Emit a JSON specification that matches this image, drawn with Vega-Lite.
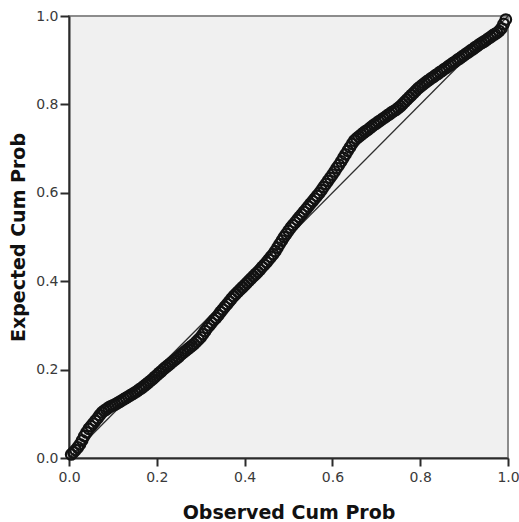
{
  "$schema": "https://vega.github.io/schema/vega-lite/v6.json",
  "width": 439,
  "height": 442,
  "autosize": "none",
  "padding": {"left": 69, "top": 16, "right": 11, "bottom": 64},
  "background": "#ffffff",
  "config": {
    "view": {"fill": "#f0f0f0", "stroke": "#8c8c8c", "strokeWidth": 2},
    "axis": {
      "grid": false,
      "domainColor": "#2b2b2b",
      "domainWidth": 2,
      "tickColor": "#2b2b2b",
      "tickWidth": 2,
      "labelFont": "DejaVu Sans",
      "labelFontSize": 14,
      "labelColor": "#3a3a3a",
      "titleFont": "DejaVu Sans",
      "titleFontSize": 19,
      "titleFontWeight": "bold",
      "titleColor": "#111111",
      "labelFlush": false,
      "labelOverlap": false
    },
    "axisX": {"tickSize": 8, "labelPadding": 4, "titlePadding": 19},
    "axisY": {"tickSize": 9, "labelPadding": 2, "titlePadding": 7}
  },
  "datasets": {
    "pts": [
      {"observed": 0.005, "expected": 0.008}, {"observed": 0.01, "expected": 0.013}, {"observed": 0.015, "expected": 0.018},
      {"observed": 0.02, "expected": 0.024}, {"observed": 0.025, "expected": 0.031}, {"observed": 0.03, "expected": 0.040},
      {"observed": 0.035, "expected": 0.050}, {"observed": 0.04, "expected": 0.058}, {"observed": 0.045, "expected": 0.066},
      {"observed": 0.05, "expected": 0.072}, {"observed": 0.055, "expected": 0.078}, {"observed": 0.06, "expected": 0.084},
      {"observed": 0.065, "expected": 0.090}, {"observed": 0.07, "expected": 0.097}, {"observed": 0.075, "expected": 0.103},
      {"observed": 0.08, "expected": 0.107}, {"observed": 0.085, "expected": 0.110}, {"observed": 0.09, "expected": 0.114},
      {"observed": 0.095, "expected": 0.117}, {"observed": 0.10, "expected": 0.119}, {"observed": 0.105, "expected": 0.121},
      {"observed": 0.11, "expected": 0.124}, {"observed": 0.115, "expected": 0.127}, {"observed": 0.12, "expected": 0.130},
      {"observed": 0.125, "expected": 0.133}, {"observed": 0.13, "expected": 0.136}, {"observed": 0.135, "expected": 0.139},
      {"observed": 0.14, "expected": 0.142}, {"observed": 0.145, "expected": 0.145}, {"observed": 0.15, "expected": 0.148},
      {"observed": 0.155, "expected": 0.151}, {"observed": 0.16, "expected": 0.155}, {"observed": 0.165, "expected": 0.158},
      {"observed": 0.17, "expected": 0.162}, {"observed": 0.175, "expected": 0.166}, {"observed": 0.18, "expected": 0.170},
      {"observed": 0.185, "expected": 0.174}, {"observed": 0.19, "expected": 0.178}, {"observed": 0.195, "expected": 0.183},
      {"observed": 0.20, "expected": 0.187}, {"observed": 0.205, "expected": 0.192}, {"observed": 0.21, "expected": 0.196},
      {"observed": 0.215, "expected": 0.201}, {"observed": 0.22, "expected": 0.205}, {"observed": 0.225, "expected": 0.209},
      {"observed": 0.23, "expected": 0.213}, {"observed": 0.235, "expected": 0.217}, {"observed": 0.24, "expected": 0.221},
      {"observed": 0.245, "expected": 0.225}, {"observed": 0.25, "expected": 0.229}, {"observed": 0.255, "expected": 0.234},
      {"observed": 0.26, "expected": 0.238}, {"observed": 0.265, "expected": 0.242}, {"observed": 0.27, "expected": 0.246},
      {"observed": 0.275, "expected": 0.250}, {"observed": 0.28, "expected": 0.254}, {"observed": 0.285, "expected": 0.258},
      {"observed": 0.29, "expected": 0.263}, {"observed": 0.295, "expected": 0.268}, {"observed": 0.30, "expected": 0.273},
      {"observed": 0.305, "expected": 0.280}, {"observed": 0.31, "expected": 0.287}, {"observed": 0.315, "expected": 0.294},
      {"observed": 0.32, "expected": 0.300}, {"observed": 0.325, "expected": 0.306}, {"observed": 0.33, "expected": 0.312},
      {"observed": 0.335, "expected": 0.317}, {"observed": 0.34, "expected": 0.323}, {"observed": 0.345, "expected": 0.330},
      {"observed": 0.35, "expected": 0.336}, {"observed": 0.355, "expected": 0.342}, {"observed": 0.36, "expected": 0.348},
      {"observed": 0.365, "expected": 0.354}, {"observed": 0.37, "expected": 0.360}, {"observed": 0.375, "expected": 0.366},
      {"observed": 0.38, "expected": 0.371}, {"observed": 0.385, "expected": 0.376}, {"observed": 0.39, "expected": 0.381},
      {"observed": 0.395, "expected": 0.386}, {"observed": 0.40, "expected": 0.391}, {"observed": 0.405, "expected": 0.396},
      {"observed": 0.41, "expected": 0.401}, {"observed": 0.415, "expected": 0.406}, {"observed": 0.42, "expected": 0.411},
      {"observed": 0.425, "expected": 0.416}, {"observed": 0.43, "expected": 0.421}, {"observed": 0.435, "expected": 0.426},
      {"observed": 0.44, "expected": 0.432}, {"observed": 0.445, "expected": 0.437}, {"observed": 0.45, "expected": 0.443},
      {"observed": 0.455, "expected": 0.449}, {"observed": 0.46, "expected": 0.455}, {"observed": 0.465, "expected": 0.461},
      {"observed": 0.47, "expected": 0.468}, {"observed": 0.475, "expected": 0.476}, {"observed": 0.48, "expected": 0.484},
      {"observed": 0.485, "expected": 0.492}, {"observed": 0.49, "expected": 0.500}, {"observed": 0.495, "expected": 0.507},
      {"observed": 0.50, "expected": 0.514}, {"observed": 0.505, "expected": 0.521}, {"observed": 0.51, "expected": 0.527},
      {"observed": 0.515, "expected": 0.533}, {"observed": 0.52, "expected": 0.539}, {"observed": 0.525, "expected": 0.545},
      {"observed": 0.53, "expected": 0.551}, {"observed": 0.535, "expected": 0.557}, {"observed": 0.54, "expected": 0.563},
      {"observed": 0.545, "expected": 0.569}, {"observed": 0.55, "expected": 0.575}, {"observed": 0.555, "expected": 0.581},
      {"observed": 0.56, "expected": 0.587}, {"observed": 0.565, "expected": 0.593}, {"observed": 0.57, "expected": 0.599},
      {"observed": 0.575, "expected": 0.606}, {"observed": 0.58, "expected": 0.613}, {"observed": 0.585, "expected": 0.620},
      {"observed": 0.59, "expected": 0.627}, {"observed": 0.595, "expected": 0.634}, {"observed": 0.60, "expected": 0.641},
      {"observed": 0.605, "expected": 0.648}, {"observed": 0.61, "expected": 0.656}, {"observed": 0.615, "expected": 0.663},
      {"observed": 0.62, "expected": 0.671}, {"observed": 0.625, "expected": 0.679}, {"observed": 0.63, "expected": 0.687},
      {"observed": 0.635, "expected": 0.695}, {"observed": 0.64, "expected": 0.703}, {"observed": 0.645, "expected": 0.711},
      {"observed": 0.65, "expected": 0.718}, {"observed": 0.655, "expected": 0.723}, {"observed": 0.66, "expected": 0.727},
      {"observed": 0.665, "expected": 0.731}, {"observed": 0.67, "expected": 0.735}, {"observed": 0.675, "expected": 0.739},
      {"observed": 0.68, "expected": 0.742}, {"observed": 0.685, "expected": 0.746}, {"observed": 0.69, "expected": 0.750},
      {"observed": 0.695, "expected": 0.754}, {"observed": 0.70, "expected": 0.757}, {"observed": 0.705, "expected": 0.761},
      {"observed": 0.71, "expected": 0.764}, {"observed": 0.715, "expected": 0.768}, {"observed": 0.72, "expected": 0.771},
      {"observed": 0.725, "expected": 0.775}, {"observed": 0.73, "expected": 0.778}, {"observed": 0.735, "expected": 0.782},
      {"observed": 0.74, "expected": 0.785}, {"observed": 0.745, "expected": 0.788}, {"observed": 0.75, "expected": 0.792},
      {"observed": 0.755, "expected": 0.796}, {"observed": 0.76, "expected": 0.801}, {"observed": 0.765, "expected": 0.806},
      {"observed": 0.77, "expected": 0.811}, {"observed": 0.775, "expected": 0.816}, {"observed": 0.78, "expected": 0.821},
      {"observed": 0.785, "expected": 0.826}, {"observed": 0.79, "expected": 0.831}, {"observed": 0.795, "expected": 0.836},
      {"observed": 0.80, "expected": 0.840}, {"observed": 0.805, "expected": 0.844}, {"observed": 0.81, "expected": 0.848},
      {"observed": 0.815, "expected": 0.852}, {"observed": 0.82, "expected": 0.855}, {"observed": 0.825, "expected": 0.859},
      {"observed": 0.83, "expected": 0.862}, {"observed": 0.835, "expected": 0.866}, {"observed": 0.84, "expected": 0.869},
      {"observed": 0.845, "expected": 0.873}, {"observed": 0.85, "expected": 0.876}, {"observed": 0.855, "expected": 0.880},
      {"observed": 0.86, "expected": 0.883}, {"observed": 0.865, "expected": 0.887}, {"observed": 0.87, "expected": 0.890},
      {"observed": 0.875, "expected": 0.894}, {"observed": 0.88, "expected": 0.897}, {"observed": 0.885, "expected": 0.901},
      {"observed": 0.89, "expected": 0.904}, {"observed": 0.895, "expected": 0.908}, {"observed": 0.90, "expected": 0.911},
      {"observed": 0.905, "expected": 0.915}, {"observed": 0.91, "expected": 0.918}, {"observed": 0.915, "expected": 0.922},
      {"observed": 0.92, "expected": 0.925}, {"observed": 0.925, "expected": 0.929}, {"observed": 0.93, "expected": 0.932},
      {"observed": 0.935, "expected": 0.936}, {"observed": 0.94, "expected": 0.939}, {"observed": 0.945, "expected": 0.942},
      {"observed": 0.95, "expected": 0.945}, {"observed": 0.955, "expected": 0.949}, {"observed": 0.96, "expected": 0.952},
      {"observed": 0.965, "expected": 0.956}, {"observed": 0.97, "expected": 0.959}, {"observed": 0.975, "expected": 0.962},
      {"observed": 0.98, "expected": 0.966}, {"observed": 0.985, "expected": 0.972}, {"observed": 0.99, "expected": 0.982},
      {"observed": 0.995, "expected": 0.992}
    ],
    "diag": [
      {"observed": 0, "expected": 0},
      {"observed": 1, "expected": 1}
    ]
  },
  "layer": [
    {
      "data": {"name": "diag"},
      "mark": {"type": "line", "color": "#2e2e2e", "strokeWidth": 1.3, "clip": true},
      "encoding": {
        "x": {"field": "observed", "type": "quantitative", "scale": {"domain": [0, 1], "nice": false},
              "axis": {"title": "Observed Cum Prob", "values": [0, 0.2, 0.4, 0.6, 0.8, 1.0], "format": ".1f"}},
        "y": {"field": "expected", "type": "quantitative", "scale": {"domain": [0, 1], "nice": false},
              "axis": {"title": "Expected Cum Prob", "values": [0, 0.2, 0.4, 0.6, 0.8, 1.0], "format": ".1f"}}
      }
    },
    {
      "data": {"name": "pts"},
      "mark": {"type": "point", "shape": "circle", "filled": false, "stroke": "#121212", "strokeWidth": 2.3, "size": 110, "opacity": 1, "clip": false},
      "encoding": {
        "x": {"field": "observed", "type": "quantitative"},
        "y": {"field": "expected", "type": "quantitative"}
      }
    }
  ]
}
